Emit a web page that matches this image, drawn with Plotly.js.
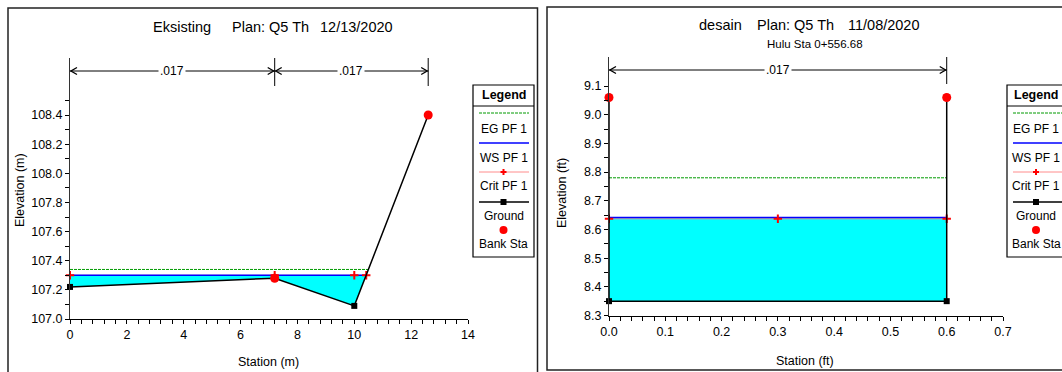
<!DOCTYPE html>
<html><head><meta charset="utf-8">
<script src="https://cdn.plot.ly/plotly-3.0.1.min.js"></script>
<style>html,body{margin:0;padding:0;background:#fff}#c{width:1062px;height:372px}</style>
</head><body><div id="c"></div>
<script>
// ---------------- DATA ----------------
// Left panel: Eksisting
const titleL = ['Eksisting', 'Plan: Q5 Th', '12/13/2020'];
const stationL = [0, 7.2, 10, 12.6];
const groundL = [107.22, 107.28, 107.09, 108.40];
const bankStaL = [7.2, 12.6];
const bankElevL = [107.28, 108.40];
const wsL = 107.30;
const egL = 107.34;
const critL = 107.30;
const critStaL = [0, 7.2, 10, 10.42];
const nStaL = [0, 7.2, 12.6];
const nValL = ['.017', '.017'];
const xTickLabelsL = ['0', '2', '4', '6', '8', '10', '12', '14'];
const yTickLabelsL = ['107.0', '107.2', '107.4', '107.6', '107.8', '108.0', '108.2', '108.4'];

// Right panel: desain
const titleR = ['desain', 'Plan: Q5 Th', '11/08/2020'];
const subTitleR = 'Hulu Sta 0+556.68';
const stationR = [0, 0, 0.6, 0.6];
const groundR = [9.06, 8.35, 8.35, 9.06];
const bankStaR = [0, 0.6];
const bankElevR = [9.06, 9.06];
const wsR = 8.642;
const egR = 8.78;
const critR = 8.637;
const critStaR = [0, 0.3, 0.6];
const nStaR = [0, 0.6];
const nValR = ['.017'];
const xTickLabelsR = ['0.0', '0.1', '0.2', '0.3', '0.4', '0.5', '0.6', '0.7'];
const yTickLabelsR = ['8.3', '8.4', '8.5', '8.6', '8.7', '8.8', '8.9', '9.0', '9.1'];

const legendItems = ['EG PF 1', 'WS PF 1', 'Crit PF 1', 'Ground', 'Bank Sta'];

// ---------------- LAYOUT HELPERS ----------------
const W = 1062, H = 372;
const FONT = 'Liberation Sans, Arial, sans-serif';
const fx = p => p / W;
const fy = p => 1 - p / H;

const COL = {eg: '#009a00', ws: '#0000ff', crit: '#ff8c8c', critM: '#ff0000', ground: '#000000', bank: '#ff0000', water: '#00ffff'};

// wet extents / polygon from ground and a water level
function wet(sta, elev, lvl) {
  const pts = [];
  for (let i = 0; i < sta.length; i++) {
    if (i > 0) {
      const a = elev[i - 1] - lvl, b = elev[i] - lvl;
      if ((a > 0 && b < 0) || (a < 0 && b > 0)) {
        const t = a / (a - b);
        pts.push([sta[i - 1] + t * (sta[i] - sta[i - 1]), lvl]);
      }
    }
    if (elev[i] <= lvl) pts.push([sta[i], elev[i]]);
  }
  const x0 = pts[0][0], x1 = pts[pts.length - 1][0];
  const poly = [[x0, lvl]].concat(pts, [[x1, lvl], [x0, lvl]]);
  return {x0, x1, poly};
}

function ticks(labels, minorPer) {
  const vals = [], text = [];
  const first = parseFloat(labels[0]), step = parseFloat(labels[1]) - first;
  for (let i = 0; i < labels.length - 1; i++) {
    for (let k = 0; k < minorPer; k++) {
      vals.push(+(first + step * (i + k / minorPer)).toFixed(6));
      text.push(k === 0 ? labels[i] : '');
    }
  }
  vals.push(parseFloat(labels[labels.length - 1])); text.push(labels[labels.length - 1]);
  return {vals, text};
}

function panel(opt) {
  const traces = [], shapes = [], ann = [];
  const xa = opt.xa, ya = opt.ya;
  const w = wet(opt.sta, opt.gr, opt.ws);
  const we = wet(opt.sta, opt.gr, opt.eg);
  traces.push({x: w.poly.map(p => p[0]), y: w.poly.map(p => p[1]), xaxis: xa, yaxis: ya, mode: 'lines',
    fill: 'toself', fillcolor: COL.water, line: {width: 0, color: COL.water}, cliponaxis: false});
  traces.push({x: [we.x0, we.x1], y: [opt.eg, opt.eg], xaxis: xa, yaxis: ya, mode: 'lines',
    line: {color: COL.eg, width: 1, dash: '3px,1px'}, cliponaxis: false});
  traces.push({x: [opt.critSta[0], opt.critSta[opt.critSta.length - 1]], y: [opt.crit, opt.crit], xaxis: xa, yaxis: ya,
    mode: 'lines', line: {color: COL.crit, width: 1}, cliponaxis: false});
  traces.push({x: [w.x0, w.x1], y: [opt.ws, opt.ws], xaxis: xa, yaxis: ya, mode: 'lines',
    line: {color: COL.ws, width: 1.5}, cliponaxis: false});
  traces.push({x: opt.critSta, y: opt.critSta.map(() => opt.crit), xaxis: xa, yaxis: ya, mode: 'markers',
    marker: {symbol: 'cross-thin', size: 6, line: {color: COL.critM, width: 2}}, cliponaxis: false});
  traces.push({x: opt.sta, y: opt.gr, xaxis: xa, yaxis: ya, mode: 'lines+markers',
    line: {color: COL.ground, width: 1.5}, marker: {symbol: 'square', size: 6, color: COL.ground}, cliponaxis: false});
  traces.push({x: opt.bankSta, y: opt.bankElev, xaxis: xa, yaxis: ya, mode: 'markers',
    marker: {symbol: 'circle', size: 9, color: COL.bank}, cliponaxis: false});

  // Manning's n arrows
  const xr = xa, yr = ya;
  for (let i = 0; i < opt.nSta.length; i++) {
    if (i > 0) shapes.push({type: 'line', xref: xr, yref: yr, x0: opt.nSta[i], x1: opt.nSta[i], y0: opt.nTop, y1: opt.nBot, line: {color: '#000', width: 1}});
  }
  for (let i = 0; i < opt.nVal.length; i++) {
    const a = opt.nSta[i], b = opt.nSta[i + 1];
    shapes.push({type: 'line', xref: xr, yref: yr, x0: a, x1: b, y0: opt.nY, y1: opt.nY, line: {color: '#000', width: 1}});
    shapes.push({type: 'path', xref: xr, yref: yr, xsizemode: 'pixel', ysizemode: 'pixel', xanchor: a, yanchor: opt.nY,
      path: 'M7,3.5 L1,0 L7,-3.5', line: {color: '#000', width: 1.3}});
    shapes.push({type: 'path', xref: xr, yref: yr, xsizemode: 'pixel', ysizemode: 'pixel', xanchor: b, yanchor: opt.nY,
      path: 'M-7,3.5 L-1,0 L-7,-3.5', line: {color: '#000', width: 1.3}});
    ann.push({xref: xr, yref: yr, x: (a + b) / 2, y: opt.nY, text: opt.nVal[i], showarrow: false, bgcolor: '#fff',
      borderpad: 1, font: {size: 12, color: '#000', family: FONT}});
  }
  return {traces, shapes, ann};
}

function legend(left, right, cx) {
  const shapes = [], ann = [];
  const P = (x0, y0, x1, y1, extra) => Object.assign({xref: 'paper', yref: 'paper', x0: fx(x0), x1: fx(x1), y0: fy(y0), y1: fy(y1)}, extra);
  shapes.push(P(left, 85, right, 257, {type: 'rect', line: {color: '#000', width: 1.2}, fillcolor: 'rgba(0,0,0,0)'}));
  shapes.push(P(left, 106, right, 106, {type: 'line', line: {color: '#000', width: 1}}));
  const l0 = left + 6, l1 = Math.min(right - 5, 1070);
  shapes.push(P(l0, 113, l1, 113, {type: 'line', line: {color: COL.eg, width: 1, dash: '3px,1px'}}));
  shapes.push(P(l0, 143, l1, 143, {type: 'line', line: {color: COL.ws, width: 1.5}}));
  shapes.push(P(l0, 172, l1, 172, {type: 'line', line: {color: COL.crit, width: 1}}));
  shapes.push(P(cx - 3, 172, cx + 3, 172, {type: 'line', line: {color: COL.critM, width: 2}}));
  shapes.push(P(cx, 169, cx, 175, {type: 'line', line: {color: COL.critM, width: 2}}));
  shapes.push(P(l0, 202, l1, 202, {type: 'line', line: {color: COL.ground, width: 1.5}}));
  shapes.push(P(cx - 3, 199, cx + 3, 205, {type: 'rect', line: {width: 0}, fillcolor: COL.ground}));
  shapes.push(P(cx - 4, 226, cx + 4, 234, {type: 'circle', line: {width: 0}, fillcolor: COL.bank}));
  const T = (y, text, bold, size) => ({xref: 'paper', yref: 'paper', x: fx(cx), y: fy(y), text: bold ? '<b>' + text + '</b>' : text,
    showarrow: false, xanchor: 'center', yanchor: 'middle', font: {size: size || 12, color: '#000', family: FONT}});
  ann.push(T(95, 'Legend', true, 12.5));
  const ys = [129, 158, 186, 216, 244];
  legendItems.forEach((t, i) => ann.push(T(ys[i], t)));
  return {shapes, ann};
}

function axisX(domainPx, range, lab, minor, anchor) {
  const t = ticks(lab, minor);
  return {domain: [fx(domainPx[0]), fx(domainPx[1])], range: range, anchor: anchor, showgrid: false, zeroline: false,
    showline: true, linecolor: '#000', linewidth: 1, ticks: 'outside', ticklen: 4, tickcolor: '#000', tickwidth: 1,
    tickmode: 'array', tickvals: t.vals, ticktext: t.text, tickfont: {size: 12.5, color: '#000', family: FONT}, fixedrange: true};
}
function axisY(domainPx, range, lab, minor, anchor) {
  const t = ticks(lab, minor);
  return {domain: [fy(domainPx[1]), fy(domainPx[0])], range: range, anchor: anchor, showgrid: false, zeroline: false,
    showline: true, linecolor: '#333', linewidth: 1, ticks: 'outside', ticklen: 4, tickcolor: '#000', tickwidth: 1,
    tickmode: 'array', tickvals: t.vals, ticktext: t.text, tickfont: {size: 12.5, color: '#000', family: FONT}, fixedrange: true};
}

// pixel -> data helpers for the n-value bar rows
const yL = {p0: 319, v0: 107.0, p1: 115, v1: 108.4};
const yRr = {p0: 315.5, v0: 8.3, p1: 86, v1: 9.1};
const pv = (c, p) => c.v0 + (c.p0 - p) * (c.v1 - c.v0) / (c.p0 - c.p1);

const L = panel({xa: 'x', ya: 'y', sta: stationL, gr: groundL, ws: wsL, eg: egL, crit: critL, critSta: critStaL,
  bankSta: bankStaL, bankElev: bankElevL, nSta: nStaL, nVal: nValL, nY: pv(yL, 71), nTop: pv(yL, 58), nBot: pv(yL, 86)});
const R = panel({xa: 'x2', ya: 'y2', sta: stationR, gr: groundR, ws: wsR, eg: egR, crit: critR, critSta: critStaR,
  bankSta: bankStaR, bankElev: bankElevR, nSta: nStaR, nVal: nValR, nY: pv(yRr, 70), nTop: pv(yRr, 57), nBot: pv(yRr, 84)});

const LL = legend(473, 534, 503.5);
const LR = legend(1007, 1075, 1036);

const frame = [
  {type: 'rect', xref: 'paper', yref: 'paper', x0: fx(8), x1: fx(537.5), y0: fy(385), y1: fy(8), line: {color: '#222', width: 1.5}, fillcolor: 'rgba(0,0,0,0)', layer: 'below'},
  {type: 'rect', xref: 'paper', yref: 'paper', x0: fx(547), x1: fx(1075), y0: fy(370), y1: fy(7), line: {color: '#222', width: 1.5}, fillcolor: 'rgba(0,0,0,0)', layer: 'below'}
];

const txt = (x, y, text, size, angle) => ({xref: 'paper', yref: 'paper', x: fx(x), y: fy(y), text: text, showarrow: false,
  xanchor: 'center', yanchor: 'middle', textangle: angle || 0, font: {size: size, color: '#000', family: FONT}});

const titles = [
  txt(182, 27, titleL[0], 14.5), txt(270, 27, titleL[1], 14.5), txt(356, 27, titleL[2], 14.5),
  txt(720, 25, titleR[0], 14.5), txt(795, 25, titleR[1], 14.5), txt(884, 25, titleR[2], 14.5),
  txt(815, 44, subTitleR, 11.5),
  txt(20, 190, 'Elevation (m)', 12.5, -90), txt(268, 362, 'Station (m)', 12.5),
  txt(562, 193, 'Elevation (ft)', 12.5, -90), txt(805, 361, 'Station (ft)', 12.5)
];

const layout = {
  width: W, height: H, margin: {l: 0, r: 0, t: 0, b: 0}, paper_bgcolor: '#fff', plot_bgcolor: 'rgba(0,0,0,0)',
  showlegend: false, font: {family: FONT, color: '#000'},
  xaxis: axisX([70, 468], [0, 14], xTickLabelsL, 5, 'y'),
  yaxis: axisY([58, 319], [107.0, pv(yL, 58)], yTickLabelsL.concat(['108.6']), 2, 'x'),
  xaxis2: axisX([609, 1003], [0, 0.7], xTickLabelsR, 5, 'y2'),
  yaxis2: axisY([57, 315.5], [8.3, pv(yRr, 57)], yTickLabelsR, 2, 'x2'),
  shapes: frame.concat(L.shapes, R.shapes, LL.shapes, LR.shapes),
  annotations: titles.concat(L.ann, R.ann, LL.ann, LR.ann)
};
// ticks only up to 108.5 on the left elevation axis
layout.yaxis.tickvals.pop(); layout.yaxis.ticktext.pop();

Plotly.newPlot('c', L.traces.concat(R.traces), layout, {staticPlot: true, displayModeBar: false});
</script></body></html>
